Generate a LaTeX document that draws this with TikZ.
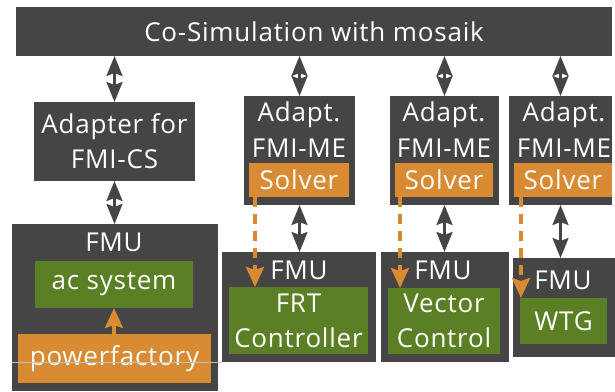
\documentclass[tikz,border=0pt]{standalone}
\usepackage{fontspec}
\setmainfont{Open Sans}[LetterSpace=3]
\usetikzlibrary{arrows.meta}
\definecolor{boxdark}{HTML}{454545}
\definecolor{boxorange}{HTML}{D88B33}
\definecolor{boxgreen}{HTML}{5A7F24}
\tikzset{
  base/.style={inner sep=0pt,outer sep=0pt,text=white,align=center,font=\fontsize{26}{35}\selectfont},
  darkbox/.style={base,fill=boxdark},
  orangebox/.style={base,fill=boxorange},
  greenbox/.style={base,fill=boxgreen},
  lbl/.style={inner sep=0pt,outer sep=0pt,text=white,align=center,font=\fontsize{26}{35}\selectfont},
  dbl/.style={draw=boxdark,line width=2.5pt,{Stealth[length=20pt,width=16pt,inset=3pt]}-{Stealth[length=20pt,width=16pt,inset=3pt]},shorten <=0pt,shorten >=0pt},
  flow/.style={draw=boxorange,line width=3.5pt,-{Stealth[length=20pt,width=18pt,inset=3pt]}},
  flowdash/.style={flow,dash pattern=on 10pt off 7pt}
}
\newcommand{\bx}[7]{\node[#6,minimum width=#4pt-#2pt,minimum height=#5pt-#3pt] (#1) at ({(#2+#4)/2},{(#3+#5)/2}) {#7};}
\begin{document}
\begin{tikzpicture}[x=1pt,y=-1pt]
\useasboundingbox (0,0) rectangle (615,391);
\bx{top}{16}{7}{612}{56}{darkbox}{Co-Simulation with mosaik}
\bx{acs}{34}{102}{195}{181}{darkbox}{Adapter for\\FMI-CS}
\bx{ma}{244}{96}{355}{205}{darkbox}{}
\bx{mb}{390}{96}{499}{205}{darkbox}{}
\bx{mc}{509}{96}{612}{205}{darkbox}{}
\bx{sa}{249}{163}{349}{197}{orangebox}{Solver}
\bx{sb}{395}{163}{493}{197}{orangebox}{Solver}
\bx{sc}{514}{163}{612}{197}{orangebox}{Solver}
\node[lbl] (ta) at (299,115) {Adapt.};
\node[lbl] (tb) at (444,115) {Adapt.};
\node[lbl] (tc) at (564,115) {Adapt.};
\node[lbl] (ua) at (299,148) {FMI-ME};
\node[lbl] (ub) at (444,148) {FMI-ME};
\node[lbl] (uc) at (564,148) {FMI-ME};
\bx{fs}{12}{224}{218}{391}{darkbox}{}
\bx{fa}{222}{252}{376}{362}{darkbox}{}
\bx{fb}{381}{252}{509}{362}{darkbox}{}
\bx{fc}{513}{258}{615}{357}{darkbox}{}
\node[lbl] (ls) at (114,242) {FMU};
\node[lbl] (la) at (299,270) {FMU};
\node[lbl] (lb) at (443,270) {FMU};
\node[lbl] (lc) at (563,280) {FMU};
\bx{ac}{35}{261}{193}{308}{greenbox}{ac system}
\bx{pf}{18}{334}{211}{383}{orangebox}{powerfactory}
\bx{ga}{229}{287}{368}{354}{greenbox}{FRT\\Controller}
\bx{gb}{388}{288}{500}{354}{greenbox}{Vector\\Control}
\bx{gc}{520}{298}{607}{344}{greenbox}{WTG}
\draw[dbl] (acs.north) -- (top.south -| acs.north);
\draw[dbl] (acs.south) -- (fs.north -| acs.south);
\draw[dbl] (ma.north) -- (top.south -| ma.north);
\draw[dbl] (mb.north) -- (top.south -| mb.north);
\draw[dbl] (mc.north) -- (top.south -| mc.north);
\draw[dbl] (ma.south) -- (fa.north -| ma.south);
\draw[dbl] (mb.south) -- (fb.north -| mb.south);
\draw[dbl] (mc.south) -- (fc.north -| mc.south);
\draw[flow] (pf.north -| ac.south) -- (ac.south);
\draw[flowdash] ([xshift=6pt]sa.south west) -- ([xshift=26pt]ga.north west);
\draw[flowdash] ([xshift=5pt]sb.south west) -- ([xshift=12pt]gb.north west);
\draw[flowdash] ([xshift=7pt]sc.south west) -- ([xshift=1pt]gc.north west);
\draw[black!25,line width=.4pt] (fs.west |- 0,362) -- (fa.west |- 0,362);
\end{tikzpicture}
\end{document}
